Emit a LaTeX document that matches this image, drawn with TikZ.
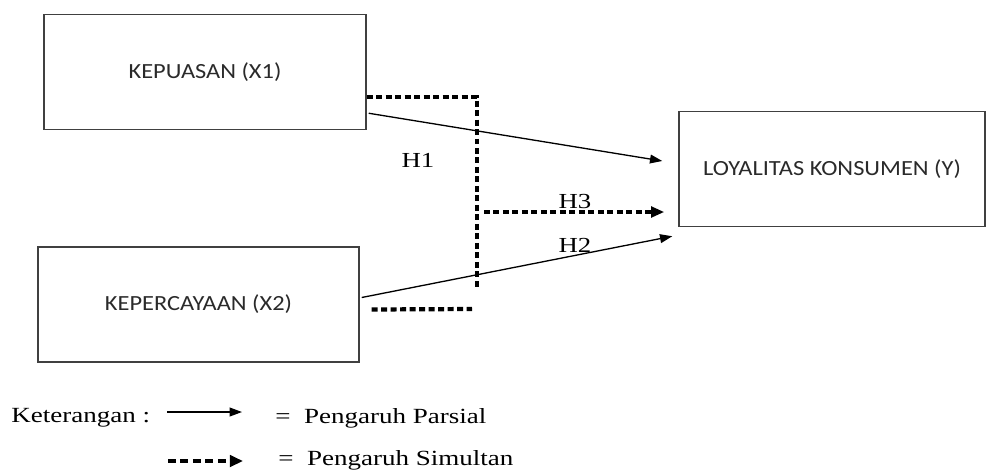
\documentclass[tikz,border=0pt]{standalone}
\usepackage{fontspec}
\setmainfont[FakeStretch=1.25]{Liberation Serif}
\newfontfamily\boxfont[FakeStretch=1.13]{Carlito}
\usetikzlibrary{arrows.meta,calc}
\definecolor{boxline}{HTML}{404040}
\definecolor{boxtext}{HTML}{2A2A2A}
\tikzset{
  varbox/.style={draw=boxline, line width=0.85pt, minimum width=#1, minimum height=2.3cm,
    inner sep=0pt, font=\boxfont\fontsize{12.3}{14}\selectfont, text=boxtext},
  solidarrow/.style={line width=0.75pt, -{Triangle[length=7pt,width=5pt]}},
  simline/.style={line width=2.4pt, dash pattern=on 3.4pt off 2pt},
  simarrow/.style={simline, -{Triangle[length=7.5pt,width=6pt]}},
  hlabel/.style={font=\fontsize{12.2}{14}\selectfont},
  legtext/.style={font=\fontsize{12.3}{14}\selectfont, anchor=west, inner sep=0pt}
}
\begin{document}
\begin{tikzpicture}[x=0.02cm, y=-0.02cm]
\useasboundingbox (0,0) rectangle (990,471);
\node[varbox=6.44cm] (X1) at (205,72) {KEPUASAN (X1)};
\node[varbox=6.42cm] (X2) at (198.5,304.5) {KEPERCAYAAN (X2)};
\node[varbox=6.12cm] (Y) at (832,169) {LOYALITAS KONSUMEN (Y)};
% junction coordinates
\coordinate (j1) at (477,97);
\coordinate (j2) at (477,290);
\coordinate (j3) at (472,309);
\coordinate (j4) at (484,212);
% simultaneous (dotted)
\draw[simline, line cap=butt] ($(X1.east)+(0,25)$) -- (j1) -- (j2);
\draw[simline] ($(X2.east)+(12,5)$) -- (j3);
\draw[simarrow] (j4) -- ($(Y.west)+(-14,43)$);
% partial (solid)
\draw[solidarrow] ($(X1.south east)+(2,-17)$) -- ($(Y.west)+(-16,-8)$);
\draw[solidarrow] ($(X2.east)+(2,-7)$) -- ($(Y.south west)+(-6,9)$);
% labels
\node[hlabel] (h1) at (418,160) {H1};
\node[hlabel] (h3) at (575,202) {H3};
\node[hlabel] (h2) at (575,245) {H2};
% legend
\node[legtext] (ket) at (11,418) {Keterangan :};
\coordinate (la) at (167,412);
\coordinate (lb) at (242,412);
\draw[solidarrow] (la) -- (lb);
\node[legtext] (parsial) at (275,418) {=\ \ Pengaruh Parsial};
\coordinate (lc) at (168,461);
\coordinate (ld) at (243,461);
\draw[line width=2.8pt, dash pattern=on 4.5pt off 2.6pt, -{Triangle[length=7.5pt,width=6.5pt]}] (lc) -- (ld);
\node[legtext] (simultan) at (278,460) {=\ \ Pengaruh Simultan};
\end{tikzpicture}
\end{document}
